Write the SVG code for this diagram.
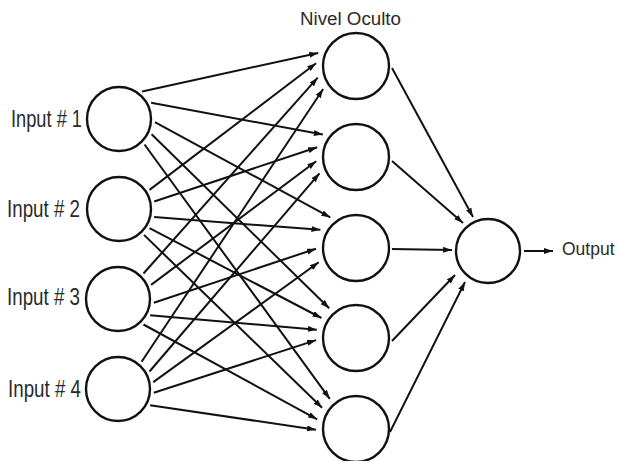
<svg xmlns="http://www.w3.org/2000/svg" width="618" height="461" viewBox="0 0 618 461">
<style>
.node{fill:#fff;stroke:#111;stroke-width:2.4}
.lbl{font-family:"Liberation Sans",Arial,sans-serif;fill:#2a2a2a}
.in{font-size:23px}
.c line{stroke:#111;stroke-width:2}
</style>
<defs>
<marker id="ah" markerUnits="userSpaceOnUse" markerWidth="10" markerHeight="7" refX="9" refY="3" orient="auto">
<path d="M0,0 L9,3 L0,6 z" fill="#111"/>
</marker>
</defs>
<rect width="618" height="461" fill="#fff"/>
<g id="connectors" class="c" marker-end="url(#ah)">
<line x1="142.1" y1="91.4" x2="318.2" y2="53.0" marker-end="url(#ah)"/>
<line x1="151.1" y1="102.7" x2="322.8" y2="134.6" marker-end="url(#ah)"/>
<line x1="154.9" y1="122.1" x2="330.3" y2="217.4" marker-end="url(#ah)"/>
<line x1="151.6" y1="134.2" x2="329.2" y2="308.3" marker-end="url(#ah)"/>
<line x1="144.5" y1="144.5" x2="329.8" y2="398.8" marker-end="url(#ah)"/>
<line x1="149.5" y1="189.9" x2="316.1" y2="63.2" marker-end="url(#ah)"/>
<line x1="154.2" y1="201.5" x2="317.2" y2="147.3" marker-end="url(#ah)"/>
<line x1="154.1" y1="217.1" x2="320.4" y2="229.8" marker-end="url(#ah)"/>
<line x1="149.5" y1="228.1" x2="321.4" y2="318.0" marker-end="url(#ah)"/>
<line x1="144.0" y1="234.9" x2="322.1" y2="407.8" marker-end="url(#ah)"/>
<line x1="143.5" y1="273.5" x2="317.7" y2="77.7" marker-end="url(#ah)"/>
<line x1="151.1" y1="284.9" x2="316.2" y2="161.2" marker-end="url(#ah)"/>
<line x1="153.8" y1="302.8" x2="316.0" y2="248.7" marker-end="url(#ah)"/>
<line x1="150.1" y1="315.3" x2="316.9" y2="329.7" marker-end="url(#ah)"/>
<line x1="143.5" y1="324.5" x2="317.2" y2="419.3" marker-end="url(#ah)"/>
<line x1="141.6" y1="361.8" x2="323.2" y2="89.0" marker-end="url(#ah)"/>
<line x1="149.5" y1="371.5" x2="319.5" y2="173.3" marker-end="url(#ah)"/>
<line x1="153.3" y1="382.1" x2="318.7" y2="262.3" marker-end="url(#ah)"/>
<line x1="153.8" y1="392.8" x2="316.1" y2="340.1" marker-end="url(#ah)"/>
<line x1="150.1" y1="405.3" x2="316.0" y2="429.7" marker-end="url(#ah)"/>
<line x1="392" y1="68" x2="473" y2="217" marker-end="url(#ah)"/>
<line x1="392" y1="161" x2="463" y2="223" marker-end="url(#ah)"/>
<line x1="392" y1="249" x2="452" y2="250" marker-end="url(#ah)"/>
<line x1="392" y1="341" x2="455" y2="275" marker-end="url(#ah)"/>
<line x1="390" y1="432" x2="465" y2="282" marker-end="url(#ah)"/>
<line x1="524" y1="251" x2="553" y2="251" marker-end="url(#ah)"/>
</g>
<g id="input1"><circle class="node" cx="119" cy="119" r="32"/><text class="lbl in" x="11" y="127" textLength="71" lengthAdjust="spacingAndGlyphs">Input # 1</text></g>
<g id="input2"><circle class="node" cx="119" cy="209" r="32"/><text class="lbl in" x="7" y="217" textLength="73" lengthAdjust="spacingAndGlyphs">Input # 2</text></g>
<g id="input3"><circle class="node" cx="118" cy="299" r="32"/><text class="lbl in" x="7" y="305" textLength="73" lengthAdjust="spacingAndGlyphs">Input # 3</text></g>
<g id="input4"><circle class="node" cx="118" cy="389" r="32"/><text class="lbl in" x="8" y="397" textLength="73" lengthAdjust="spacingAndGlyphs">Input # 4</text></g>
<g id="hidden1"><circle class="node" cx="356" cy="66" r="33"/><text class="lbl" x="300" y="25" font-size="18" textLength="101" lengthAdjust="spacingAndGlyphs">Nivel Oculto</text></g>
<g id="hidden2"><circle class="node" cx="356" cy="157" r="33"/></g>
<g id="hidden3"><circle class="node" cx="356" cy="248" r="33"/></g>
<g id="hidden4"><circle class="node" cx="356" cy="338" r="33"/></g>
<g id="hidden5"><circle class="node" cx="356" cy="429" r="33"/></g>
<g id="output"><circle class="node" cx="488" cy="251" r="32"/><text class="lbl" x="562" y="255" font-size="17.5">Output</text></g>
</svg>
